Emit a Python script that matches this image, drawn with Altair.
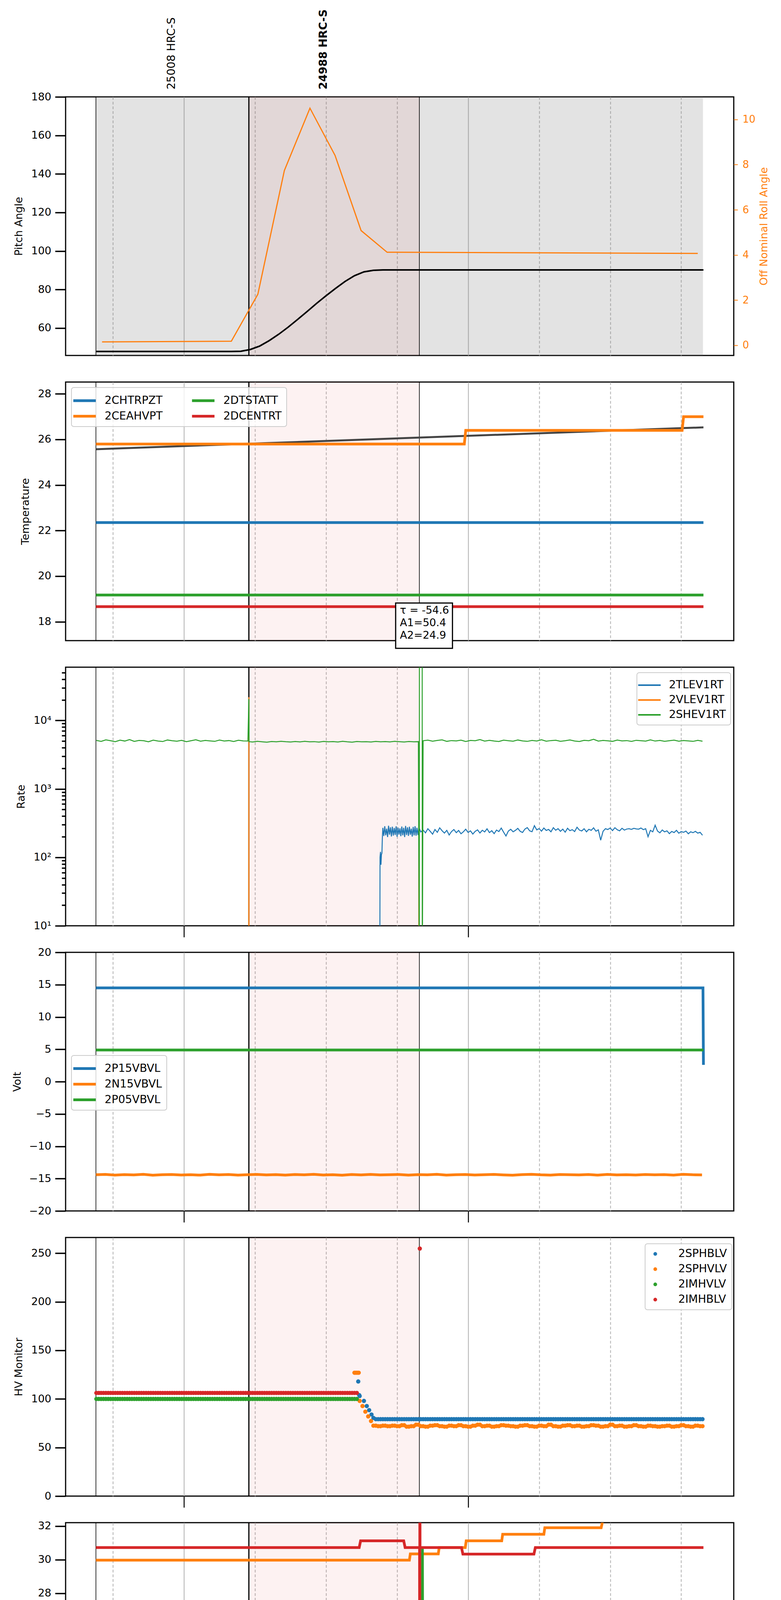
import altair as alt
import pandas as pd

# ---------------------------------------------------------------------------
# time axis: minutes after 2021-04-13 04:00
# ---------------------------------------------------------------------------
X_DOMAIN = [-25.0, 116.1]
X_TICKS = [-15, 0, 15, 30, 45, 60, 75, 90, 105]     # hours at 0 and 60
DATA_SPAN = [-18.6, 109.6]
OBS_SPAN = [13.7, 49.7]
EDGE_LINES = [-18.6, 49.7]
OBS_START_LINE = [13.7]
OBS_LABEL_T = [-2.6, 29.5]
OBS_LABELS = ["25008 HRC-S", "24988 HRC-S"]
X_TITLE = "2021-04-13 (103)"

BLUE, ORANGE, GREEN, RED = "#1f77b4", "#ff7f0e", "#2ca02c", "#d62728"

# --- panel 1: pitch / roll ---
PITCH_T = [-18.6, 10.0, 12.0, 14.0, 16.0, 18.0, 20.0, 22.0, 24.0, 26.0, 28.0,
           30.0, 32.0, 34.0, 36.0, 38.0, 40.0, 42.0, 109.7]
PITCH_V = [47.9, 47.9, 48.0, 48.9, 50.7, 53.5, 56.8, 60.5, 64.5, 68.6, 72.8,
           76.8, 80.6, 84.2, 87.2, 89.2, 90.0, 90.2, 90.2]
ROLL_T = [-17.3, 10.0, 15.6, 21.2, 26.6, 31.9, 37.4, 42.9, 108.5]
ROLL_V = [0.15, 0.18, 2.26, 7.74, 10.5, 8.41, 5.08, 4.12, 4.07]

# --- panel 2: temperature ---
CHTRPZT_T, CHTRPZT_V = [-18.6, 109.7], [22.35, 22.35]
CEAHVPT_T = [-18.6, 59.2, 59.5, 105.2, 105.5, 109.7]
CEAHVPT_V = [25.8, 25.8, 26.4, 26.4, 27.0, 27.0]
DTSTATT_T, DTSTATT_V = [-18.6, 109.7], [19.17, 19.17]
DCENTRT_T, DCENTRT_V = [-18.6, 109.7], [18.66, 18.66]
TREND_T, TREND_V = [-18.6, 109.7], [25.57, 26.53]
FIT_TEXT = ["τ = -54.6", "A1=50.4", "A2=24.9"]
FIT_BOX_T = [44.7, 56.7]
FIT_BOX_V = [16.83, 18.82]
FIT_TEXT_AT = [45.6, 18.72]

# --- panel 3: rates (1-minute samples from -18.5) ---
SHEV_T0 = -18.5
SHEV_V = [5100, 4950, 5200, 5050, 4900, 5150, 5000, 5250, 4950, 5100,
          5050, 4880, 5150, 5000, 4920, 5180, 5050, 4970, 5120, 4900,
          5060, 5220, 4980, 5100, 5030, 4950, 5170, 5000, 5080, 4930,
          5140, 5020,
          5000, 4850, 4950, 4880, 4820, 4930, 4870, 4960, 4890, 4840,
          4920, 4860, 4950, 4880, 4900, 4830, 4940, 4870, 4910, 4850,
          4960, 4880, 4820, 4930, 4870, 4900, 4850, 4940, 4880, 4910,
          4860, 4950, 4890, 4840, 4920, 4870, 4900,
          5050, 5150, 4980, 5100, 5200, 4950, 5080, 5020, 5160, 4930,
          5100, 5050, 5250, 4990, 5120, 5000, 4920, 5150, 5060, 4980,
          5180, 5030, 4950, 5100, 5010, 5220, 4970, 5080, 5140, 4960,
          5050, 5190, 5000, 4930, 5120, 5060, 5300, 4990, 5100, 5040,
          4950, 5170, 5020, 5080, 4940, 5130, 5060, 4990, 5210, 5000,
          5100, 4960, 5050, 5150, 4980, 5090, 5020, 4950, 5120, 4980]
SHEV_SPIKE_T = [13.7, 13.75, 49.7, 49.72, 50.3, 50.32]
SHEV_SPIKE_V = [20500, 4900, 0, 1e6, 1e6, 0]
VLEV_T = [-18.6, 13.68, 13.7, 13.72, 49.58, 49.6, 49.62, 109.7]
VLEV_V = [0, 0, 21900, 0, 0, 5000, 0, 0]
TLEV_RISE_T = [-18.6, 41.35, 41.4, 41.5, 41.6, 41.7, 41.8, 41.9]
TLEV_RISE_V = [0, 0, 100, 120, 78, 110, 115, 200]
TLEV_FAST_T0 = 42.0   # 0.2-minute samples
TLEV_FAST_V = [270, 205, 285, 210, 262, 198, 290, 215, 275, 202,
               280, 208, 268, 212, 284, 200, 272, 215, 266, 204,
               282, 210, 270, 198, 288, 212, 275, 206, 280, 214,
               262, 201, 278, 209, 285, 207, 270, 212, 276]
TLEV_SLOW_T0 = 50.0   # 0.5-minute samples
TLEV_SLOW_V = [235, 250, 228, 262, 240, 218, 255, 232, 270, 245,
               226, 248, 212, 238, 255, 229, 247, 221, 236, 258,
               231, 244, 219, 240, 252, 227, 249, 235, 261, 230,
               245, 222, 250, 238, 268, 233, 205, 242, 257, 236,
               248, 265, 240, 231, 259, 272, 244, 237, 290, 252,
               263, 241, 268, 247, 256, 236, 271, 249, 262, 240,
               258, 233, 266, 245, 254, 238, 275, 250, 243, 262,
               236, 257, 248, 270, 241, 252, 178, 240, 262, 255,
               268, 246, 271, 253, 244, 266, 250, 259, 262, 256,
               265, 260, 258, 268, 254, 262, 200, 248, 236, 295,
               242, 228, 251, 236, 244, 222, 239, 230, 248, 225,
               238, 232, 242, 221, 236, 229, 240, 226, 232, 210]
RATE_TICKS = [10, 20, 30, 40, 50, 60, 70, 80, 90,
              100, 200, 300, 400, 500, 600, 700, 800, 900,
              1000, 2000, 3000, 4000, 5000, 6000, 7000, 8000, 9000,
              10000, 20000, 30000, 40000, 50000]

# --- panel 4: voltages ---
P15_T, P15_V = [-18.6, 109.6, 109.7], [14.5, 14.5, 2.6]
P05_T, P05_V = [-18.6, 109.7], [4.9, 4.9]
N15_T0 = -18.6   # 2-minute samples
N15_V = [-14.40, -14.35, -14.45, -14.38, -14.42, -14.33, -14.47, -14.40, -14.36, -14.44,
         -14.39, -14.46, -14.34, -14.41, -14.37, -14.45, -14.40, -14.35, -14.43, -14.38,
         -14.46, -14.36, -14.41, -14.34, -14.44, -14.39, -14.47, -14.37, -14.42, -14.35,
         -14.43, -14.40, -14.36, -14.45, -14.38, -14.41, -14.34, -14.46, -14.39, -14.37,
         -14.44, -14.40, -14.35, -14.42, -14.47, -14.38, -14.33, -14.41, -14.45, -14.36,
         -14.40, -14.43, -14.37, -14.46, -14.35, -14.42, -14.39, -14.44, -14.36, -14.41,
         -14.38, -14.45, -14.34, -14.40, -14.42]

# --- panel 5: HV monitor (half-minute telemetry) ---
HV_STEP = 0.5
HV_OFF_T = [-18.5, 36.5]            # first/last sample before ramp
IMHBLV_LEVEL, IMHVLV_LEVEL = 106.2, 100.0
IMHBLV_SPIKE_T, IMHBLV_SPIKE_V = [49.8], [254.8]
SPHBLV_RAMP_T = [36.8, 37.0, 37.1, 38.0, 38.6, 39.1, 39.6, 40.0]
SPHBLV_RAMP_V = [118, 104, 103, 98, 92.7, 88.5, 84.0, 80.5]
SPHBLV_ON_T, SPHBLV_LEVEL = [40.5, 109.5], 79.2
SPHVLV_RAMP_T = [36.0, 36.3, 36.6, 36.9, 37.1, 37.7, 38.3, 38.9, 39.5]
SPHVLV_RAMP_V = [127, 127, 127, 127, 98, 92.7, 86.9, 82.0, 77.3]
SPHVLV_ON_T0 = 40.0                 # one reading per minute, held for two samples
SPHVLV_ON_V = [72.5, 72.0, 72.5, 72.0, 72.5, 72.0, 73.0, 71.5, 72.0, 73.5,
               72.0, 71.5, 72.5, 73.0, 72.0, 71.5, 72.5, 72.0, 73.0, 72.0,
               71.5, 72.5, 73.5, 72.0, 72.5, 71.5, 72.0, 73.0, 72.5, 72.0,
               71.5, 72.5, 73.0, 72.0, 71.5, 72.5, 72.0, 73.5, 72.0, 71.5,
               72.5, 73.0, 72.0, 72.5, 71.5, 72.0, 73.0, 72.5, 71.5, 72.0,
               73.5, 72.0, 72.5, 71.5, 72.0, 73.0, 72.0, 71.5, 72.5, 72.0,
               71.5, 72.0, 72.5, 71.5, 72.0, 73.0, 72.0, 71.5, 72.5, 72.0]

# --- panel 6: detector temperatures ---
SPINATM_T = [-18.6, 50.3, 50.35, 50.45, 109.7]
SPINATM_V = [18.3, 18.3, 18.9, 18.3, 18.3]
SPHVATM_T = [-18.6, 47.6, 47.8, 53.7, 53.9, 59.4, 59.6, 67.1, 67.3, 76.0, 76.2, 88.1, 88.5, 109.7]
SPHVATM_V = [29.97, 29.97, 30.34, 30.34, 30.72, 30.72, 31.12, 31.12, 31.51, 31.51, 31.9, 31.9, 32.4, 32.4]
IMINATM_T = [-18.6, 50.3, 50.35, 50.45, 109.7]
IMINATM_V = [18.95, 18.95, 30.7, 18.95, 18.95]
IMHVATM_T = [-18.6, 37.0, 37.3, 46.4, 46.7, 49.75, 49.78, 49.82, 49.85, 58.6, 58.9, 73.9, 74.2, 109.7]
IMHVATM_V = [30.72, 30.72, 31.12, 31.12, 30.72, 30.72, 10.0, 50.0, 30.72, 30.72, 30.33, 30.33, 30.72, 30.72]

# --- panel 7: FEA temperatures ---
FHTRMZT_T = [-18.6, 29.5, 29.6, 29.8, 29.9, 30.1, 30.3, 109.7]
FHTRMZT_V = [21.27, 21.27, 20.74, 20.74, 21.27, 21.27, 20.74, 20.74]
FRADPYT_T = [-18.6, 2.6, 2.7, 3.8, 3.9, 5.5, 5.6, 6.2, 6.3, 7.5, 7.7, 93.2, 93.5, 109.7]
FRADPYT_V = [16.18, 16.18, 15.70, 15.70, 16.18, 16.18, 15.70, 15.70, 16.18, 16.18, 15.70, 15.70, 15.25, 15.25]
FEPRATM_T = [-18.6, 77.2, 77.8, 78.2, 79.3, 80.0, 109.7]
FEPRATM_V = [23.13, 23.13, 22.38, 22.38, 23.13, 22.38, 22.38]
FE00ATM_T = [-18.6, 26.4, 26.5, 26.8, 27.0, 27.3, 28.5, 28.7, 44.1, 44.2, 44.3, 47.8, 47.9, 48.0,
             49.75, 49.78, 49.82, 49.85, 109.7]
FE00ATM_V = [21.40, 21.40, 21.10, 21.40, 21.10, 21.40, 21.40, 21.10, 21.10, 21.42, 21.10, 21.10, 21.42, 21.10,
             21.10, 10.0, 40.0, 21.10, 21.10]

# ---------------------------------------------------------------------------
W, H = 1711, 662
GRID = "#b0b0b0"
FONT = "DejaVu Sans"
XS = alt.Scale(domain=X_DOMAIN, nice=False, zero=False)
IS_HOUR = "datum.value % 60 === 0"
LINE_HANDLE = "M-1.6,0H1.6"      # wide legend handle, row height stays small


def cond(test, yes, no):
    return {"condition": {"test": test, "value": yes}, "value": no}


def frame(names, times, values):
    rows = []
    for name, tt, vv in zip(names, times, values):
        for i, (t, v) in enumerate(zip(tt, vv)):
            rows.append({"name": name, "t": t, "v": v, "i": i})
    return pd.DataFrame(rows)


def sampled(t0, step, values):
    return [t0 + step * k for k in range(len(values))]


def held(span, level, step=HV_STEP):
    n = int(round((span[1] - span[0]) / step)) + 1
    return [span[0] + step * k for k in range(n)], [level] * n


def x_axis(ticks, labels):
    kw = dict(values=X_TICKS, orient="bottom", domain=False, grid=True,
              gridColor=GRID, gridWidth=2, gridDash=cond(IS_HOUR, [1, 0], [7, 5]),
              ticks=ticks, tickSize=cond(IS_HOUR, 29, 0), tickWidth=2.5,
              tickColor="black", labels=labels, labelColor="black",
              labelFontSize=cond(IS_HOUR, 27, 17), labelPadding=8,
              labelExpr=("datum.value % 60 === 0 ? format(4 + floor(datum.value / 60), '02d') + 'h'"
                         " : format(datum.value - 60 * floor(datum.value / 60), '02d')"))
    if labels:
        kw.update(title=X_TITLE, titleFontSize=33, titleFontWeight="normal",
                  titlePadding=10, titleColor="black")
    else:
        kw.update(title=None, maxExtent=0)
    return alt.Axis(**kw)


def y_axis(title, values, title_x, **extra):
    kw = dict(title=title, values=values, orient="left", domain=False, grid=False,
              tickSize=27, tickWidth=3.5, tickColor="black", labelFontSize=27,
              labelPadding=10, labelColor="black", titleFontSize=27,
              titleFontWeight="normal", titleX=title_x, titleBaseline="middle",
              titleColor="black")
    kw.update(extra)
    return alt.Axis(**kw)


def legend(x, y, kind="line", columns=1, stroke_w=7):
    kw = dict(orient="none", legendX=x, legendY=y, title=None, columns=columns,
              columnPadding=60, labelFontSize=28, labelLimit=400, padding=12,
              fillColor="rgba(255,255,255,0.8)", strokeColor="#cccccc", cornerRadius=6)
    if kind == "line":
        kw.update(symbolType=LINE_HANDLE, symbolSize=1296, symbolStrokeWidth=stroke_w,
                  labelOffset=30, rowPadding=4)
    else:
        kw.update(symbolType="circle", symbolSize=90, labelOffset=45, rowPadding=11)
    return alt.Legend(**kw)


def backdrop(xa, gray=False):
    layers = []
    if gray:
        layers.append(
            alt.Chart(pd.DataFrame({"t0": [DATA_SPAN[0]], "t1": [DATA_SPAN[1]]}))
            .mark_rect(color="gray", opacity=0.22)
            .encode(x=alt.X("t0:Q", scale=XS, axis=xa), x2="t1:Q"))
    layers.append(
        alt.Chart(pd.DataFrame({"t0": [OBS_SPAN[0]], "t1": [OBS_SPAN[1]]}))
        .mark_rect(color=RED, opacity=0.06)
        .encode(x=alt.X("t0:Q", scale=XS, axis=xa), x2="t1:Q"))
    layers.append(
        alt.Chart(pd.DataFrame({"t": EDGE_LINES}))
        .mark_rule(color="black", strokeWidth=1.6)
        .encode(x=alt.X("t:Q", scale=XS, axis=xa)))
    layers.append(
        alt.Chart(pd.DataFrame({"t": OBS_START_LINE}))
        .mark_rule(color="black", strokeWidth=3)
        .encode(x=alt.X("t:Q", scale=XS, axis=xa)))
    return layers


def lines(df, names, colors, xa, ys, ya, leg, width=7, point=False):
    enc = dict(
        x=alt.X("t:Q", scale=XS, axis=xa),
        y=alt.Y("v:Q", scale=ys, axis=ya),
        color=alt.Color("name:N", scale=alt.Scale(domain=names, range=colors), legend=leg),
    )
    if point:
        return alt.Chart(df).mark_circle(size=120, opacity=1, clip=True).encode(**enc)
    return alt.Chart(df).mark_line(strokeWidth=width, clip=True).encode(order="i:Q", **enc)


def panel(layers):
    return alt.layer(*layers).properties(width=W, height=H)


# ---------------- panel 1 ----------------
xa1 = x_axis(False, False)
ys_pitch = alt.Scale(domain=[45.8, 180], nice=False, zero=False)
ys_roll = alt.Scale(domain=[-0.45, 11.0], nice=False, zero=False)
p1 = backdrop(xa1, gray=True)
p1.append(
    alt.Chart(pd.DataFrame({"t": PITCH_T, "v": PITCH_V}))
    .mark_line(color="black", strokeWidth=4, clip=True)
    .encode(x=alt.X("t:Q", scale=XS, axis=xa1),
            y=alt.Y("v:Q", scale=ys_pitch,
                    axis=y_axis("Pitch Angle", [60, 80, 100, 120, 140, 160, 180], -120))))
p1.append(
    alt.Chart(pd.DataFrame({"t": ROLL_T, "r": ROLL_V}))
    .mark_line(color=ORANGE, strokeWidth=3, clip=True)
    .encode(x=alt.X("t:Q", scale=XS, axis=xa1),
            y=alt.Y("r:Q", scale=ys_roll,
                    axis=alt.Axis(title="Off Nominal Roll Angle", orient="right",
                                  values=[0, 2, 4, 6, 8, 10], domain=False, grid=False,
                                  tickSize=10, tickWidth=2, tickColor=ORANGE,
                                  labelColor=ORANGE, labelFontSize=26, labelPadding=12,
                                  titleColor=ORANGE, titleFontSize=27,
                                  titleFontWeight="normal", titleAngle=270,
                                  titleBaseline="middle", titleX=77))))
labels_df = pd.DataFrame({"t": OBS_LABEL_T, "txt": OBS_LABELS})
p1.append(
    alt.Chart(labels_df.iloc[[0]])
    .mark_text(angle=270, align="left", baseline="middle", fontSize=28, font=FONT)
    .encode(x=alt.X("t:Q", scale=XS, axis=xa1), y=alt.value(-19), text="txt:N"))
p1.append(
    alt.Chart(labels_df.iloc[[1]])
    .mark_text(angle=270, align="left", baseline="middle", fontSize=28, font=FONT,
               fontWeight="bold")
    .encode(x=alt.X("t:Q", scale=XS, axis=xa1), y=alt.value(-19), text="txt:N"))
panel1 = alt.layer(*p1).resolve_scale(y="independent").properties(width=W, height=H)

# ---------------- panel 2 ----------------
xa2 = x_axis(False, False)
ys_temp = alt.Scale(domain=[17.17, 28.52], nice=False, zero=False)
ya2 = y_axis("Temperature", [18, 20, 22, 24, 26, 28], -103)
temp_names = ["2CHTRPZT", "2CEAHVPT", "2DTSTATT", "2DCENTRT"]
temp_df = frame(temp_names, [CHTRPZT_T, CEAHVPT_T, DTSTATT_T, DCENTRT_T],
                [CHTRPZT_V, CEAHVPT_V, DTSTATT_V, DCENTRT_V])
p2 = backdrop(xa2)
p2.append(
    alt.Chart(pd.DataFrame({"t": TREND_T, "v": TREND_V}))
    .mark_line(color="#444444", strokeWidth=5, clip=True)
    .encode(x=alt.X("t:Q", scale=XS, axis=xa2), y=alt.Y("v:Q", scale=ys_temp, axis=ya2)))
p2.append(lines(temp_df, temp_names, [BLUE, ORANGE, GREEN, RED], xa2, ys_temp, ya2,
                legend(15, 14, columns=2)))
p2.append(
    alt.Chart(pd.DataFrame({"t0": [FIT_BOX_T[0]], "t1": [FIT_BOX_T[1]],
                            "v0": [FIT_BOX_V[0]], "v1": [FIT_BOX_V[1]]}))
    .mark_rect(fill="white", stroke="black", strokeWidth=3)
    .encode(x=alt.X("t0:Q", scale=XS, axis=xa2), x2="t1:Q",
            y=alt.Y("v0:Q", scale=ys_temp, axis=ya2), y2="v1:Q"))
p2.append(
    alt.Chart(pd.DataFrame({"t": [FIT_TEXT_AT[0]], "v": [FIT_TEXT_AT[1]],
                            "txt": ["\n".join(FIT_TEXT)]}))
    .mark_text(align="left", baseline="top", fontSize=27, font=FONT, lineBreak="\n",
               lineHeight=32, color="black")
    .encode(x=alt.X("t:Q", scale=XS, axis=xa2),
            y=alt.Y("v:Q", scale=ys_temp, axis=ya2), text="txt:N"))
panel2 = panel(p2)

# ---------------- panel 3 ----------------
xa3 = x_axis(True, False)
ys_rate = alt.Scale(type="log", domain=[10, 60000], nice=False)
shev_t = sampled(SHEV_T0, 1.0, SHEV_V) + SHEV_SPIKE_T
shev_v = SHEV_V + SHEV_SPIKE_V
shev = sorted(zip(shev_t, shev_v))
tlev_t = TLEV_RISE_T + sampled(TLEV_FAST_T0, 0.2, TLEV_FAST_V) + sampled(TLEV_SLOW_T0, 0.5, TLEV_SLOW_V)
tlev_v = TLEV_RISE_V + TLEV_FAST_V + TLEV_SLOW_V
rate_names = ["2TLEV1RT", "2VLEV1RT", "2SHEV1RT"]
rate_df = frame(rate_names, [tlev_t, VLEV_T, [a for a, _ in shev]],
                [tlev_v, VLEV_V, [b for _, b in shev]])
rate_df["v"] = rate_df["v"].clip(lower=1)   # zero counts drop off the log axis
IS_DECADE = "indexof([10, 100, 1000, 10000], datum.value) >= 0"
p3 = backdrop(xa3)
p3.append(lines(rate_df, rate_names, [BLUE, ORANGE, GREEN], xa3, ys_rate,
                y_axis("Rate", RATE_TICKS, -114,
                       tickSize=cond(IS_DECADE, 27, 10),
                       labelExpr="datum.value == 10 ? '10¹' : datum.value == 100 ? '10²' : "
                                 "datum.value == 1000 ? '10³' : datum.value == 10000 ? '10⁴' : ''"),
                legend(1463, 14, stroke_w=4), width=2.5))
panel3 = panel(p3)

# ---------------- panel 4 ----------------
xa4 = x_axis(True, False)
ys_volt = alt.Scale(domain=[-20, 20], nice=False, zero=False)
volt_names = ["2P15VBVL", "2N15VBVL", "2P05VBVL"]
volt_df = frame(volt_names, [P15_T, sampled(N15_T0, 2.0, N15_V), P05_T], [P15_V, N15_V, P05_V])
p4 = backdrop(xa4)
p4.append(lines(volt_df, volt_names, [BLUE, ORANGE, GREEN], xa4, ys_volt,
                y_axis("Volt", list(range(-20, 25, 5)), -124), legend(15, 264)))
panel4 = panel(p4)

# ---------------- panel 5 ----------------
xa5 = x_axis(True, False)
ys_hv = alt.Scale(domain=[0, 266.2], nice=False, zero=False)
imhb_t, imhb_v = held(HV_OFF_T, IMHBLV_LEVEL)
imhv_t, imhv_v = held(HV_OFF_T, IMHVLV_LEVEL)
sphb_t, sphb_v = held(SPHBLV_ON_T, SPHBLV_LEVEL)
sphv_t = [t + d for t in sampled(SPHVLV_ON_T0, 1.0, SPHVLV_ON_V) for d in (0.0, HV_STEP)]
sphv_v = [v for v in SPHVLV_ON_V for _ in (0, 1)]
hv_names = ["2SPHBLV", "2SPHVLV", "2IMHVLV", "2IMHBLV"]
hv_df = frame(hv_names,
              [SPHBLV_RAMP_T + sphb_t, SPHVLV_RAMP_T + sphv_t, imhv_t, imhb_t + IMHBLV_SPIKE_T],
              [SPHBLV_RAMP_V + sphb_v, SPHVLV_RAMP_V + sphv_v, imhv_v, imhb_v + IMHBLV_SPIKE_V])
p5 = backdrop(xa5)
p5.append(lines(hv_df, hv_names, [BLUE, ORANGE, GREEN, RED], xa5, ys_hv,
                y_axis("HV Monitor", [0, 50, 100, 150, 200, 250], -120),
                legend(1484, 16, kind="circle"), point=True))
panel5 = panel(p5)

# ---------------- panel 6 ----------------
xa6 = x_axis(True, False)
ys_det = alt.Scale(domain=[16.81, 32.2], nice=False, zero=False)
det_names = ["2SPINATM", "2SPHVATM", "2IMINATM", "2IMHVATM"]
det_df = frame(det_names, [SPINATM_T, SPHVATM_T, IMINATM_T, IMHVATM_T],
               [SPINATM_V, SPHVATM_V, IMINATM_V, IMHVATM_V])
p6 = backdrop(xa6)
p6.append(lines(det_df, det_names, [BLUE, ORANGE, GREEN, RED], xa6, ys_det,
                y_axis("Detector Temp", list(range(18, 33, 2)), -103), legend(1452, 247)))
panel6 = panel(p6)

# ---------------- panel 7 ----------------
xa7 = x_axis(True, True)
ys_fea = alt.Scale(domain=[14.27, 24.69], nice=False, zero=False)
fea_names = ["2FHTRMZT", "2FRADPYT", "2FEPRATM", "2FE00ATM"]
fea_df = frame(fea_names, [FHTRMZT_T, FRADPYT_T, FEPRATM_T, FE00ATM_T],
               [FHTRMZT_V, FRADPYT_V, FEPRATM_V, FE00ATM_V])
p7 = backdrop(xa7)
p7.append(lines(fea_df, fea_names, [BLUE, ORANGE, GREEN, RED], xa7, ys_fea,
                y_axis("FEA Temp", [16, 18, 20, 22, 24], -103), legend(15, 247)))
panel7 = panel(p7)

chart = (
    alt.vconcat(panel1, panel2, panel3, panel4, panel5, panel6, panel7,
                spacing=68, bounds="flush")
    .resolve_scale(color="independent")
    .properties(padding={"left": 20, "top": 14, "right": 5, "bottom": 0})
    .configure(font=FONT)
    .configure_view(stroke="black", strokeWidth=3)
    .configure_legend(strokeWidth=2)
)

chart.save("out.html", embed_options={"renderer": "svg", "actions": False})
